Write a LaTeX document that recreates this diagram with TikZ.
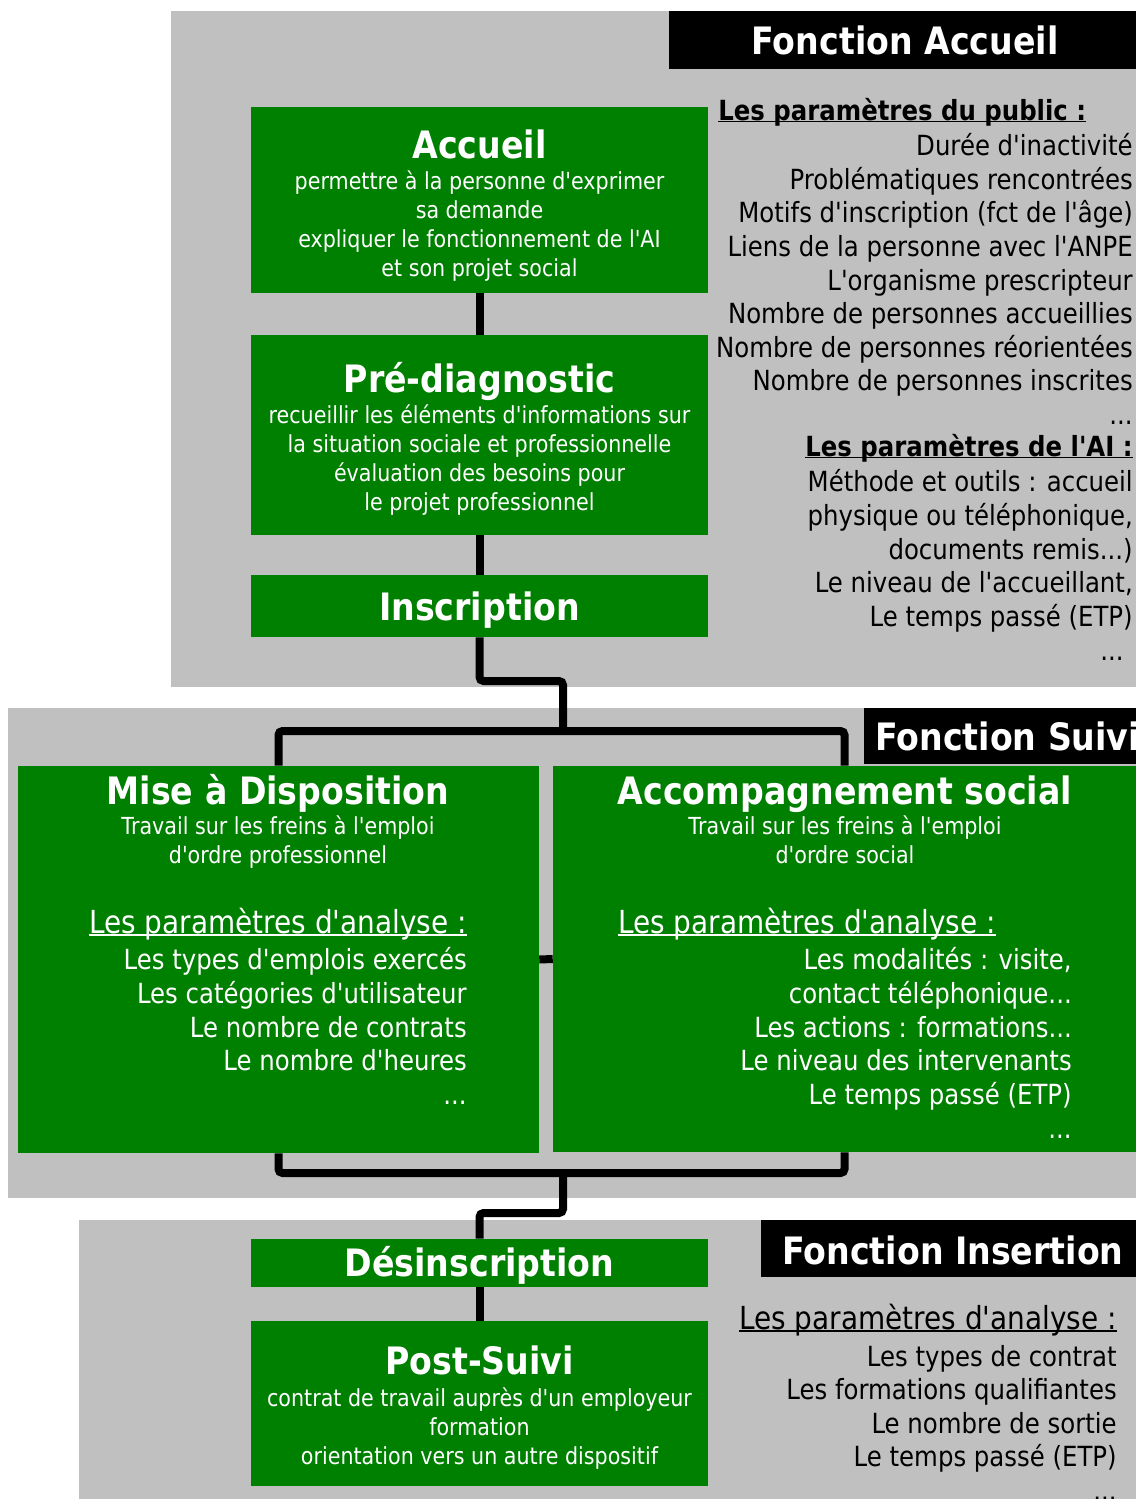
\documentclass[tikz,border=0pt]{standalone}
\usepackage{fontspec}
\setmainfont{DejaVu Sans}[FakeStretch=0.88, Ligatures=TeXOff]
\usetikzlibrary{positioning}
\definecolor{grayzone}{HTML}{C0C0C0}
\definecolor{boxgreen}{HTML}{008000}
\pgfdeclarelayer{bg}
\pgfdeclarelayer{lines}
\pgfsetlayers{bg,lines,main}
\newcommand{\fbody}{\fontsize{17.6pt}{21pt}\selectfont}
\newcommand{\flist}{\fontsize{20.8pt}{25pt}\selectfont}
\newcommand{\fhead}{\fontsize{23.8pt}{28pt}\selectfont}
\newcommand{\ftitle}{\bfseries\fontsize{28.3pt}{33pt}\selectfont}
\newcommand{\ulx}[1]{\setbox0=\hbox{#1}\rlap{\rule[-0.085em]{\wd0}{0.06em}}\box0}
\tikzset{
  zone/.style={fill=grayzone, draw=none},
  band/.style={fill=black, draw=none},
  gbox/.style={rectangle, fill=boxgreen, draw=none, inner sep=0pt},
  conn/.style={line width=6pt, draw=black, rounded corners=3pt},
  wtitle/.style={text=white, font=\ftitle, inner sep=0pt, anchor=base},
  wbody/.style={text=white, font=\fbody, inner sep=0pt, anchor=base},
  wlist/.style={text=white, font=\flist, inner sep=0pt, anchor=base east},
  whead/.style={text=white, font=\fhead, inner sep=0pt},
  klist/.style={text=black, font=\flist, inner sep=0pt, anchor=base east},
  khead/.style={text=black, font=\fhead, inner sep=0pt},
  bandtitle/.style={text=white, font=\ftitle, inner sep=0pt, anchor=base},
}
\begin{document}
\begin{tikzpicture}[x=0.75pt,y=-0.75pt]
\useasboundingbox (0,0) rectangle (1136,1499);
% zones
\begin{pgfonlayer}{bg}
\fill[white] (0,0) rectangle (1136,1499);
\path[zone] (171,11) rectangle (1136,687);
\path[zone] (8,708) rectangle (1136,1198);
\path[zone] (79,1220) rectangle (1136,1499);
\path[band] (669,11) rectangle (1136,69);
\path[band] (864,708) rectangle (1136,764);
\path[band] (761,1220) rectangle (1136,1277);
\end{pgfonlayer}
% band titles
\node[bandtitle] (tAcc) at (905,54.6) {Fonction Accueil};
\node[bandtitle, anchor=base west] (tSuivi) at (875,750.6) {Fonction Suivi};
\node[bandtitle] (tIns) at (953,1264.6) {Fonction Insertion};
% green boxes
\node[gbox, minimum width=457*0.75pt, minimum height=186*0.75pt] (accueil) at (479.5,200) {};
\node[gbox, minimum width=457*0.75pt, minimum height=200*0.75pt] (prediag) at (479.5,435) {};
\node[gbox, minimum width=457*0.75pt, minimum height=62*0.75pt] (inscr) at (479.5,606) {};
\node[gbox, minimum width=521*0.75pt, minimum height=387*0.75pt] (mad) at (278.5,959.5) {};
\node[gbox, minimum width=583*0.75pt, minimum height=386*0.75pt] (accsoc) at (844.5,959) {};
\node[gbox, minimum width=457*0.75pt, minimum height=48*0.75pt] (desins) at (479.5,1263) {};
\node[gbox, minimum width=457*0.75pt, minimum height=165*0.75pt] (postsuivi) at (479.5,1403.5) {};
% junctions
\coordinate (t1) at (563,681);
\coordinate (j1) at (563,731);
\coordinate (j2) at (563,1173);
\coordinate (t2) at (563,1213);
% connectors
\begin{pgfonlayer}{lines}
\draw[conn] (accueil.south) -- (prediag.north);
\draw[conn] (prediag.south) -- (inscr.north);
\draw[conn] (inscr.south) |- (t1) -- (j1);
\draw[conn] (mad.north) |- (j1) -| (accsoc.north);
\draw[conn] (mad.east) -- (accsoc.west);
\draw[conn] (mad.south) |- (j2) -| (accsoc.south);
\draw[conn] (j2) -- (t2) -| (desins.north);
\draw[conn] (desins.south) -- (postsuivi.north);
\end{pgfonlayer}
% Accueil
\node[wtitle] (accT) at (479.5,158.6) {Accueil};
\node[wbody] (accB1) at (479.5,189.5) {permettre à la personne d'exprimer};
\node[wbody] (accB2) at (479.5,218.5) {sa demande};
\node[wbody] (accB3) at (479.5,247.5) {expliquer le fonctionnement de l'AI};
\node[wbody] (accB4) at (479.5,276.5) {et son projet social};
% Pre-diagnostic
\node[wtitle] (preT) at (479.5,392.6) {Pré-diagnostic};
\node[wbody] (preB1) at (479.5,423.5) {recueillir les éléments d'informations sur};
\node[wbody] (preB2) at (479.5,452.5) {la situation sociale et professionnelle};
\node[wbody] (preB3) at (479.5,481.5) {évaluation des besoins pour};
\node[wbody] (preB4) at (479.5,510.5) {le projet professionnel};
% Inscription
\node[wtitle] (insT) at (479.5,620.6) {Inscription};
% right column top
\node[khead, font=\flist\bfseries, anchor=base west] (pubH) at (718,120) {\ulx{Les paramètres du public :}};
\node[klist] (p1) at (1133,155) {Durée d'inactivité};
\node[klist] (p2) at (1133,189) {Problématiques rencontrées};
\node[klist] (p3) at (1133,222) {Motifs d'inscription (fct de l'âge)};
\node[klist] (p4) at (1133,256) {Liens de la personne avec l'ANPE};
\node[klist] (p5) at (1133,290) {L'organisme prescripteur};
\node[klist] (p6) at (1133,323) {Nombre de personnes accueillies};
\node[klist] (p7) at (1133,357) {Nombre de personnes réorientées};
\node[klist] (p8) at (1133,390) {Nombre de personnes inscrites};
\node[klist] (p9) at (1133,424) {...};
\node[khead, font=\flist\bfseries, anchor=base east] (aiH) at (1133,456) {\ulx{Les paramètres de l'AI :}};
\node[klist] (a1) at (1133,491) {Méthode et outils : accueil};
\node[klist] (a2) at (1133,525) {physique ou téléphonique,};
\node[klist] (a3) at (1133,559) {documents remis...)};
\node[klist] (a4) at (1133,592) {Le niveau de l'accueillant,};
\node[klist] (a5) at (1133,626) {Le temps passé (ETP)};
\node[klist] (a6) at (1124,660) {...};
% Mise a disposition
\node[wtitle] (madT) at (278,804.6) {Mise à Disposition};
\node[wbody] (madB1) at (278,834.5) {Travail sur les freins à l'emploi};
\node[wbody] (madB2) at (278,863.5) {d'ordre professionnel};
\node[whead, anchor=base east] (madH) at (467,933) {\ulx{Les paramètres d'analyse :}};
\node[wlist] (m1) at (467,969) {Les types d'emplois exercés};
\node[wlist] (m2) at (467,1003) {Les catégories d'utilisateur};
\node[wlist] (m3) at (467,1037) {Le nombre de contrats};
\node[wlist] (m4) at (467,1070) {Le nombre d'heures};
\node[wlist] (m5) at (467,1104) {...};
% Accompagnement social
\node[wtitle] (asT) at (845,804.6) {Accompagnement social};
\node[wbody] (asB1) at (845,834.5) {Travail sur les freins à l'emploi};
\node[wbody] (asB2) at (845,863.5) {d'ordre social};
\node[whead, anchor=base west] (asH) at (618,933) {\ulx{Les paramètres d'analyse :}};
\node[wlist] (s1) at (1072,969) {Les modalités : visite,};
\node[wlist] (s2) at (1072,1003) {contact téléphonique...};
\node[wlist] (s3) at (1072,1037) {Les actions : formations...};
\node[wlist] (s4) at (1072,1070) {Le niveau des intervenants};
\node[wlist] (s5) at (1072,1104) {Le temps passé (ETP)};
\node[wlist] (s6) at (1072,1138) {...};
% Desinscription / Post-suivi
\node[wtitle] (desT) at (479.5,1276.6) {Désinscription};
\node[wtitle] (psT) at (479.5,1374.6) {Post-Suivi};
\node[wbody] (psB1) at (479.5,1406.5) {contrat de travail auprès d'un employeur};
\node[wbody] (psB2) at (479.5,1435.5) {formation};
\node[wbody] (psB3) at (479.5,1464.5) {orientation vers un autre dispositif};
% Insertion right column
\node[khead, anchor=base east] (insH) at (1117,1329) {\ulx{Les paramètres d'analyse :}};
\node[klist] (i1) at (1117,1366) {Les types de contrat};
\node[klist] (i2) at (1117,1399) {Les formations qualifiantes};
\node[klist] (i3) at (1117,1433) {Le nombre de sortie};
\node[klist] (i4) at (1117,1466) {Le temps passé (ETP)};
\node[klist] (i5) at (1117,1500) {...};
\end{tikzpicture}
\end{document}
